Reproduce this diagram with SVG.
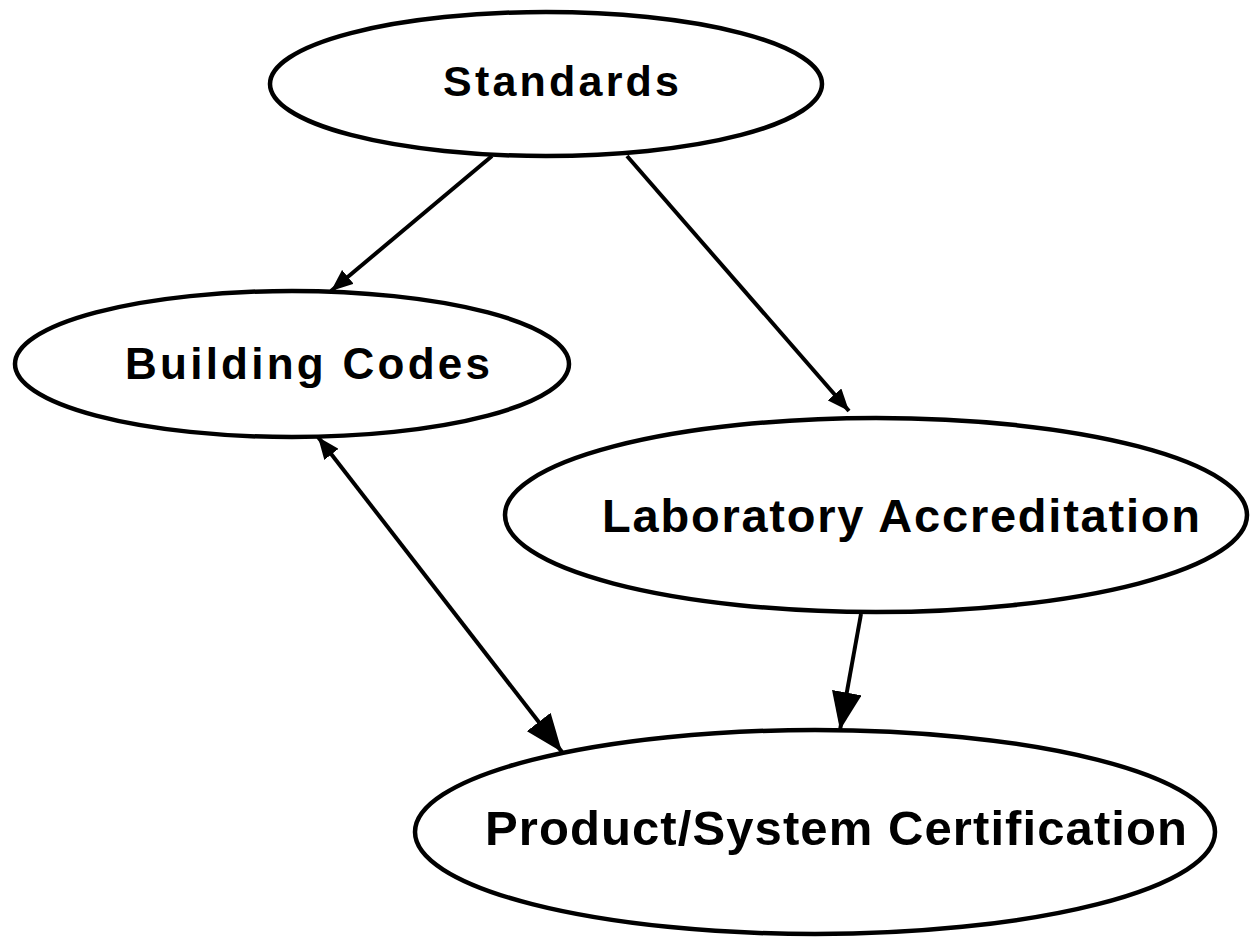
<svg xmlns="http://www.w3.org/2000/svg" width="1250" height="939" viewBox="0 0 1250 939">
<style>
.node ellipse{fill:#fff;stroke:#000;stroke-width:4.5}
.node text{font-family:"Liberation Sans",Arial,sans-serif;font-weight:bold;fill:#000;font-size:43px}
.edge{stroke:#000;stroke-width:4;fill:none}
</style>
<defs>
<marker id="hs" viewBox="0 0 22 18" refX="22" refY="9" markerWidth="22" markerHeight="18" markerUnits="userSpaceOnUse" orient="auto-start-reverse"><path d="M0,0 L22,9 L0,18 z" fill="#000"/></marker>
<marker id="hl" viewBox="0 0 38 30" refX="38" refY="15" markerWidth="38" markerHeight="30" markerUnits="userSpaceOnUse" orient="auto-start-reverse"><path d="M0,0 L38,15 L0,30 z" fill="#000"/></marker>
</defs>
<rect width="1250" height="939" fill="#fff"/>
<g id="connectors">
<line class="edge" x1="492" y1="156" x2="331" y2="291" marker-end="url(#hs)"/>
<line class="edge" x1="627" y1="156" x2="849" y2="411" marker-end="url(#hs)"/>
<line class="edge" x1="318" y1="437" x2="562" y2="752" marker-start="url(#hs)" marker-end="url(#hl)"/>
<line class="edge" x1="861" y1="614" x2="840" y2="730" marker-end="url(#hl)"/>
</g>
<g id="standards" class="node">
<ellipse cx="546" cy="84" rx="276" ry="72"/>
<text x="443" y="96" textLength="236" lengthAdjust="spacing">Standards</text>
</g>
<g id="building-codes" class="node">
<ellipse cx="292" cy="364" rx="277" ry="73"/>
<text x="125" y="379" textLength="365" lengthAdjust="spacing" style="font-size:44px">Building Codes</text>
</g>
<g id="laboratory-accreditation" class="node">
<ellipse cx="876" cy="515" rx="371" ry="97"/>
<text x="602" y="532" textLength="598" lengthAdjust="spacing" style="font-size:47px">Laboratory Accreditation</text>
</g>
<g id="product-system-certification" class="node">
<ellipse cx="815" cy="832" rx="400" ry="102"/>
<text x="485" y="845" textLength="702" lengthAdjust="spacing" style="font-size:49px">Product/System Certification</text>
</g>
</svg>
